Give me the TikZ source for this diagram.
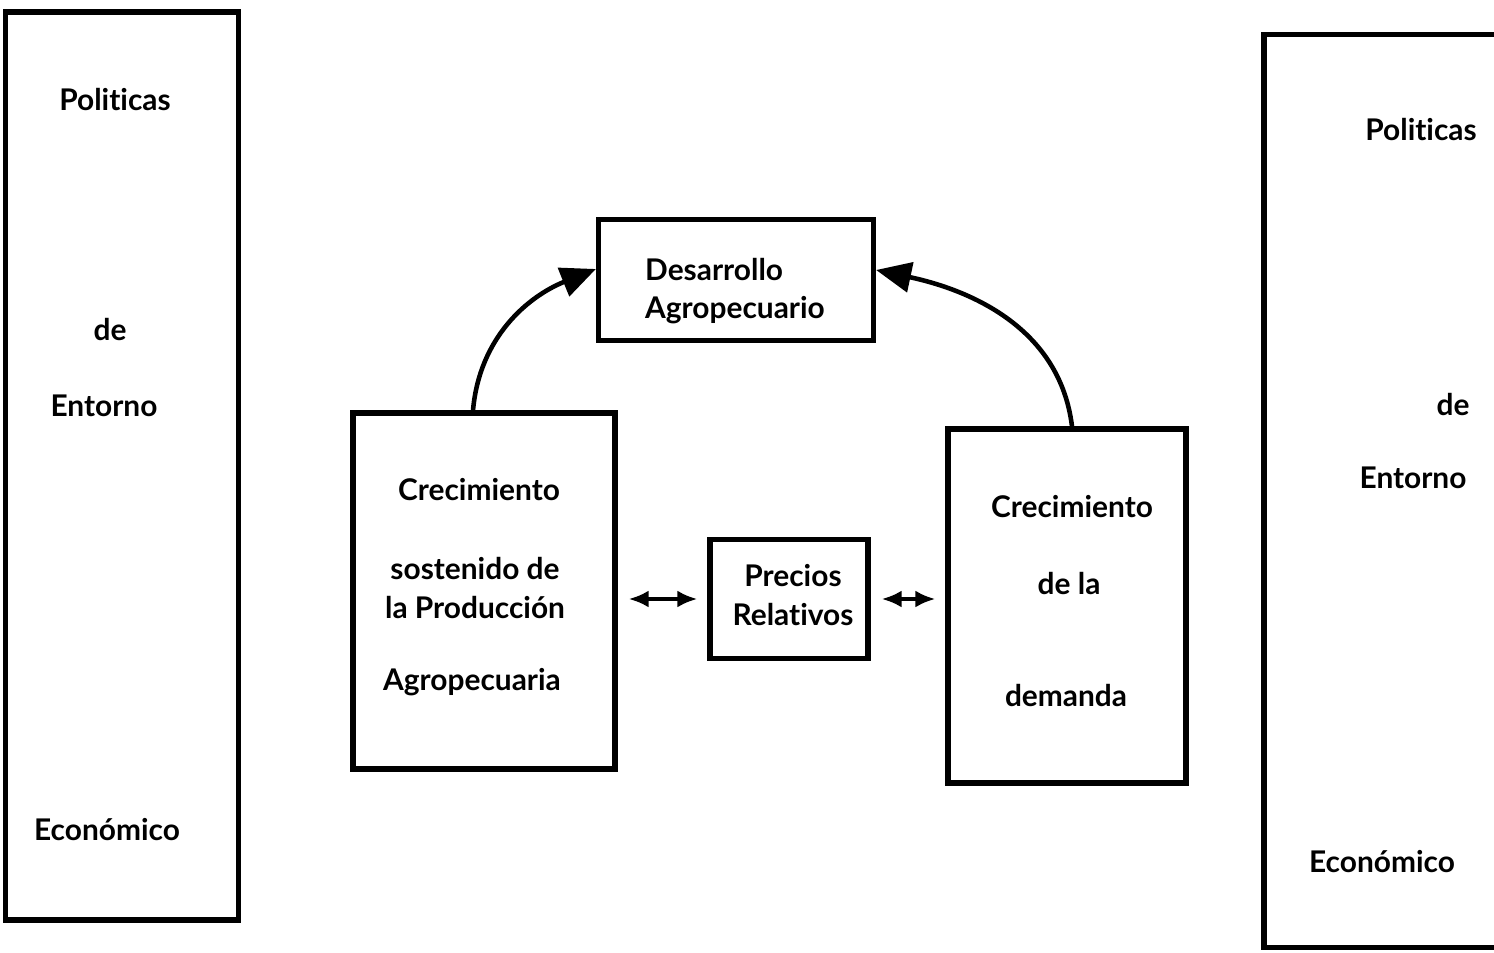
\documentclass[tikz,border=0pt]{standalone}
\usepackage{fontspec}
\setmainfont{Lato}[Ligatures=NoCommon]
\usetikzlibrary{arrows.meta}

\begin{document}
\begin{tikzpicture}[x=0.02cm, y=-0.02cm,
    caja/.style = {draw, line width=3pt, inner sep=0pt},
    texto/.style = {font=\fontsize{17}{22}\selectfont\bfseries, align=center, inner sep=0pt},
    lado/.style = {font=\fontsize{17}{20}\selectfont\bfseries, inner sep=0pt},
    curva/.style = {line width=2.6pt, -{Triangle[length=0.7cm, width=0.6cm]}},
    doble/.style = {line width=2.2pt, {Latex[length=0.4cm, width=0.34cm]}-{Latex[length=0.4cm, width=0.34cm]}, shorten <=0.22cm, shorten >=0.2cm}]
    \useasboundingbox (0,0) rectangle (1494,953);
    % cajas laterales
    \node[caja, minimum width=4.66cm, minimum height=18.16cm] (izq) at (122,466) {};
    \node[caja, minimum width=5.2cm, minimum height=18.26cm] (der) at (1394,491) {};
    \node[lado] (izqpol) at (115,100) {Politicas};
    \node[lado] (izqde) at (110,330) {de};
    \node[lado] (izqent) at (104,406) {Entorno};
    \node[lado] (izqeco) at (107,830) {Económico};
    \node[lado] (derpol) at (1421,130) {Politicas};
    \node[lado] (derde) at (1453,405) {de};
    \node[lado] (derent) at (1413,478) {Entorno};
    \node[lado] (dereco) at (1382,862) {Económico};
    % cajas centrales
    \node[caja, minimum width=5.5cm, minimum height=2.42cm] (des) at (736,280) {};
    \node[caja, minimum width=5.24cm, minimum height=7.12cm] (prod) at (484,591) {};
    \node[caja, minimum width=3.16cm, minimum height=2.38cm] (prec) at (789,599) {};
    \node[caja, minimum width=4.76cm, minimum height=7.08cm] (dem) at (1067,606) {};
    \node[texto, align=left] (destxt) at (735,291) {Desarrollo\\Agropecuario};
    \node[texto] (prod1) at (479,490) {Crecimiento};
    \node[texto] (prod2) at (475,588) {sostenido de\\la Producción};
    \node[texto] (prod3) at (472,682) {Agropecuaria};
    \node[texto] (prectxt) at (793,595) {Precios\\Relativos};
    \node[texto] (dem1) at (1072,507) {Crecimiento};
    \node[texto] (dem2) at (1069,584) {de la};
    \node[texto] (dem3) at (1066,696) {demanda};
    % flechas
    \draw[curva] ([xshift=-0.22cm]prod.north) to[out=85, in=202] ([yshift=0.22cm]des.west);
    \draw[curva] ([xshift=0.1cm]dem.north) to[out=97, in=-12] ([yshift=0.2cm]des.east);
    \draw[doble] (prod.east |- prec.west) -- (prec.west);
    \draw[doble] (prec.east) -- (prec.east -| dem.west);
\end{tikzpicture}
\end{document}
